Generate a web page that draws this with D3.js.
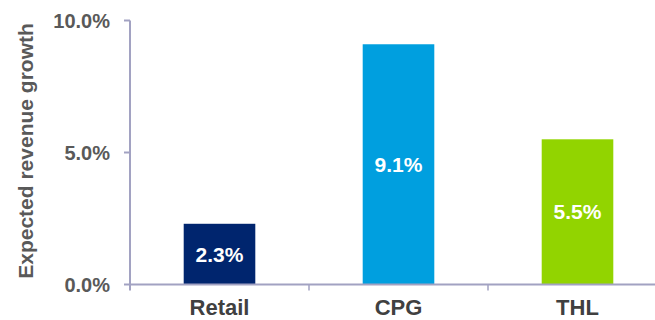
<!DOCTYPE html>
<html>
<head>
<meta charset="utf-8">
<script src="https://cdn.jsdelivr.net/npm/d3@7"></script>
<style>
  body { margin: 0; background: #fff; }
  text { font-family: "Liberation Sans", Arial, sans-serif; font-weight: bold; }
</style>
</head>
<body>
<div id="chart"></div>
<script>
// chart data
var categories = ["Retail", "CPG", "THL"];
var values = [2.3, 9.1, 5.5];
var valueLabels = ["2.3%", "9.1%", "5.5%"];
var barColors = ["#00256e", "#009fdf", "#92d400"];
var yTicks = [0, 5, 10];
var yTickLabels = ["0.0%", "5.0%", "10.0%"];

var width = 655, height = 320;
var axisColor = "#a2a2c2";

var svg = d3.select("#chart").append("svg")
    .attr("width", width)
    .attr("height", height);

// scales
var x = d3.scaleBand()
    .domain(categories)
    .range([130, 667])
    .paddingInner(0.6)
    .paddingOuter(0.3);

var y = d3.scaleLinear()
    .domain([0, 10])
    .range([284.5, 20.5]);

var step = x.step();

// bars
svg.selectAll(".bar")
    .data(values)
    .enter().append("rect")
    .attr("class", "bar")
    .attr("x", function(d, i) { return x(categories[i]); })
    .attr("y", function(d) { return y(d); })
    .attr("width", x.bandwidth())
    .attr("height", function(d) { return y(0) - y(d); })
    .attr("fill", function(d, i) { return barColors[i]; });

// value labels in the middle of each bar
svg.selectAll(".val")
    .data(values)
    .enter().append("text")
    .attr("class", "val")
    .attr("x", function(d, i) { return x(categories[i]) + x.bandwidth() / 2; })
    .attr("y", function(d) { return (y(d) + y(0)) / 2; })
    .attr("dy", "0.36em")
    .attr("text-anchor", "middle")
    .attr("font-size", 21)
    .attr("fill", "#fff")
    .text(function(d, i) { return valueLabels[i]; });

// y axis
var yAxis = svg.append("g");
yAxis.append("line")
    .attr("x1", 130).attr("x2", 130)
    .attr("y1", y(10)).attr("y2", y(0) + 6)
    .attr("stroke", axisColor).attr("stroke-width", 2);

yAxis.selectAll(".ytick")
    .data(yTicks)
    .enter().append("line")
    .attr("x1", 124).attr("x2", 130)
    .attr("y1", function(d) { return y(d); })
    .attr("y2", function(d) { return y(d); })
    .attr("stroke", axisColor).attr("stroke-width", 2);

yAxis.selectAll(".ylab")
    .data(yTicks)
    .enter().append("text")
    .attr("x", 110)
    .attr("y", function(d) { return y(d); })
    .attr("dy", "0.36em")
    .attr("text-anchor", "end")
    .attr("font-size", 20)
    .attr("fill", "#595959")
    .text(function(d, i) { return yTickLabels[i]; });

// x axis
var xAxis = svg.append("g");
xAxis.append("line")
    .attr("x1", 130).attr("x2", 667)
    .attr("y1", y(0)).attr("y2", y(0))
    .attr("stroke", axisColor).attr("stroke-width", 2);

// separator ticks between categories
xAxis.selectAll(".xtick")
    .data(categories.slice(1))
    .enter().append("line")
    .attr("x1", function(d) { return x(d) - step * 0.3; })
    .attr("x2", function(d) { return x(d) - step * 0.3; })
    .attr("y1", y(0)).attr("y2", y(0) + 6)
    .attr("stroke", axisColor).attr("stroke-width", 1.5);

xAxis.selectAll(".xlab")
    .data(categories)
    .enter().append("text")
    .attr("x", function(d) { return x(d) + x.bandwidth() / 2; })
    .attr("y", 315)
    .attr("text-anchor", "middle")
    .attr("font-size", 22)
    .attr("fill", "#404040")
    .text(function(d) { return d; });

// axis title
svg.append("text")
    .attr("transform", "translate(33,151) rotate(-90)")
    .attr("text-anchor", "middle")
    .attr("font-size", 21)
    .attr("fill", "#595959")
    .text("Expected revenue growth");
</script>
</body>
</html>
